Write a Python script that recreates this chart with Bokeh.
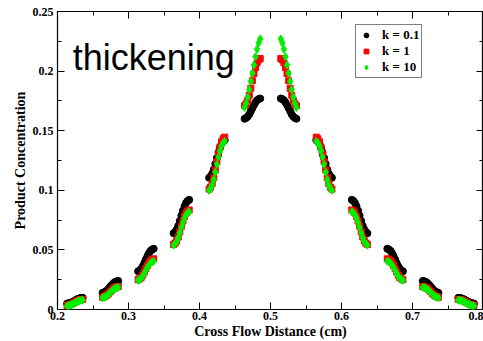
import numpy as np
from bokeh.plotting import figure
from bokeh.models import (LinearAxis, FixedTicker, NumeralTickFormatter, Label, Legend,
                          LegendItem, CustomJSTickFormatter)
from bokeh.embed import file_html
from bokeh.resources import INLINE

# ---- data (left half of the symmetric profile; right half is its mirror about x = 0.5) ----
segment_starts = [0.2135, 0.2635, 0.3135, 0.3635, 0.4135, 0.4635]
segment_width = 0.022

k01_left = [
    [0.0050, 0.0052, 0.0055, 0.0061, 0.0068, 0.0075, 0.0083, 0.0089, 0.0094, 0.0097, 0.0098],
    [0.0140, 0.0144, 0.0151, 0.0162, 0.0177, 0.0193, 0.0208, 0.0221, 0.0231, 0.0237, 0.0240],
    [0.0320, 0.0328, 0.0341, 0.0362, 0.0390, 0.0421, 0.0449, 0.0474, 0.0493, 0.0504, 0.0510],
    [0.0640, 0.0651, 0.0671, 0.0702, 0.0744, 0.0788, 0.0830, 0.0867, 0.0895, 0.0912, 0.0920],
    [0.1105, 0.1118, 0.1140, 0.1174, 0.1222, 0.1272, 0.1319, 0.1360, 0.1392, 0.1411, 0.1420],
    [0.1600, 0.1607, 0.1619, 0.1637, 0.1663, 0.1690, 0.1716, 0.1738, 0.1755, 0.1765, 0.1770],
]
k1_left = [
    [0.0035, 0.0037, 0.0041, 0.0046, 0.0054, 0.0062, 0.0069, 0.0076, 0.0081, 0.0084, 0.0085],
    [0.0103, 0.0107, 0.0113, 0.0123, 0.0136, 0.0151, 0.0164, 0.0176, 0.0185, 0.0190, 0.0193],
    [0.0250, 0.0257, 0.0269, 0.0289, 0.0315, 0.0343, 0.0369, 0.0392, 0.0409, 0.0420, 0.0425],
    [0.0545, 0.0557, 0.0577, 0.0609, 0.0652, 0.0699, 0.0742, 0.0780, 0.0809, 0.0826, 0.0835],
    [0.1010, 0.1027, 0.1058, 0.1106, 0.1171, 0.1241, 0.1307, 0.1363, 0.1407, 0.1433, 0.1446],
    [0.1710, 0.1726, 0.1754, 0.1797, 0.1856, 0.1919, 0.1979, 0.2030, 0.2070, 0.2093, 0.2105],
]
k10_left = [
    [0.0030, 0.0032, 0.0035, 0.0041, 0.0048, 0.0055, 0.0063, 0.0069, 0.0074, 0.0077, 0.0078],
    [0.0098, 0.0102, 0.0108, 0.0117, 0.0130, 0.0144, 0.0157, 0.0169, 0.0177, 0.0182, 0.0185],
    [0.0245, 0.0251, 0.0263, 0.0280, 0.0304, 0.0330, 0.0354, 0.0375, 0.0391, 0.0400, 0.0405],
    [0.0540, 0.0551, 0.0571, 0.0602, 0.0644, 0.0688, 0.0730, 0.0767, 0.0795, 0.0812, 0.0820],
    [0.1000, 0.1016, 0.1045, 0.1090, 0.1152, 0.1217, 0.1279, 0.1332, 0.1373, 0.1398, 0.1410],
    [0.1695, 0.1730, 0.1781, 0.1845, 0.1914, 0.1983, 0.2052, 0.2121, 0.2184, 0.2236, 0.2270],
]

x_ticks = [0.2, 0.3, 0.4, 0.5, 0.6, 0.7, 0.8]
x_minor = [0.25, 0.35, 0.45, 0.55, 0.65, 0.75]
y_ticks = [0, 0.05, 0.1, 0.15, 0.2, 0.25]
y_minor = [0.025, 0.075, 0.125, 0.175, 0.225]

labels = ["k = 0.1", "k = 1", "k = 10"]


def full_profile(left):
    xs, ys = [], []
    for start, vals in zip(segment_starts, left):
        px = np.linspace(start, start + segment_width, len(vals))
        xs += list(px)
        ys += list(vals)
        xs += list(1.0 - px)
        ys += list(vals)
    return xs, ys


SERIF = "Liberation Serif"

p = figure(width=483, height=341, output_backend="svg", toolbar_location=None,
           x_range=(0.2, 0.8), y_range=(0, 0.25),
           min_border_left=57, min_border_right=0, min_border_top=11, min_border_bottom=32)
p.background_fill_color = "white"
p.border_fill_color = "white"
p.outline_line_color = "black"
p.outline_line_width = 1.2
p.xgrid.visible = False
p.ygrid.visible = False

xb, yb = full_profile(k01_left)
xr, yr = full_profile(k1_left)
xg, yg = full_profile(k10_left)
rb = p.scatter(xb, yb, marker="circle", size=7, fill_color="black", line_color="black")
rr = p.scatter(xr, yr, marker="square", size=6, fill_color="red", line_color="red")
rg = p.scatter(xg, yg, marker="diamond", size=8, fill_color="#00ee00", line_color="#00ee00")


def style_axis(ax, show_labels):
    ax.axis_line_color = None
    ax.major_tick_in = 7
    ax.major_tick_out = 0
    ax.minor_tick_in = 4
    ax.minor_tick_out = 0
    ax.major_tick_line_color = "black"
    ax.minor_tick_line_color = "black"
    if show_labels:
        ax.major_label_text_font = SERIF
        ax.major_label_text_font_style = "bold"
        ax.major_label_text_font_size = "12px"
        ax.major_label_text_color = "black"
        ax.axis_label_text_font = SERIF
        ax.axis_label_text_font_style = "bold"
        ax.axis_label_text_font_size = "14px"
        ax.axis_label_text_color = "black"
    else:
        ax.formatter = CustomJSTickFormatter(code="return '';")
        ax.major_label_text_color = None
        ax.major_label_text_font_size = "1px"
        ax.major_label_standoff = 0
        ax.axis_label_standoff = 0
        ax.axis_label = None


xax = p.xaxis[0]
xax.ticker = FixedTicker(ticks=x_ticks, minor_ticks=x_minor)
xax.formatter = NumeralTickFormatter(format="0.[0]")
xax.axis_label = "Cross Flow Distance (cm)"
style_axis(xax, True)
xax.major_label_standoff = 2
xax.axis_label_standoff = 1

yax = p.yaxis[0]
yax.ticker = FixedTicker(ticks=y_ticks, minor_ticks=y_minor)
yax.formatter = NumeralTickFormatter(format="0.[00]")
yax.axis_label = "Product Concentration"
style_axis(yax, True)
yax.major_label_standoff = 4
yax.axis_label_standoff = 2

top = LinearAxis(ticker=FixedTicker(ticks=x_ticks, minor_ticks=x_minor))
style_axis(top, False)
p.add_layout(top, "above")
right = LinearAxis(ticker=FixedTicker(ticks=y_ticks, minor_ticks=y_minor))
style_axis(right, False)
p.add_layout(right, "right")

p.add_layout(Label(x=0.2215, y=0.2114, text="thickening", text_font="Liberation Sans",
                   text_font_size="36px", text_color="black", text_baseline="alphabetic"))

legend = Legend(items=[LegendItem(label=labels[0], renderers=[rb]),
                       LegendItem(label=labels[1], renderers=[rr]),
                       LegendItem(label=labels[2], renderers=[rg])],
                location=(298, 231))
legend.border_line_color = "black"
legend.border_line_width = 1
legend.background_fill_color = "white"
legend.background_fill_alpha = 1
legend.label_text_font = SERIF
legend.label_text_font_style = "bold"
legend.label_text_font_size = "13px"
legend.label_text_color = "black"
legend.glyph_width = 16
legend.glyph_height = 12
legend.label_height = 12
legend.label_standoff = 8
legend.spacing = 0
legend.padding = 2
legend.margin = 0
p.add_layout(legend, "center")

open("out.html", "w").write(file_html(p, INLINE))
